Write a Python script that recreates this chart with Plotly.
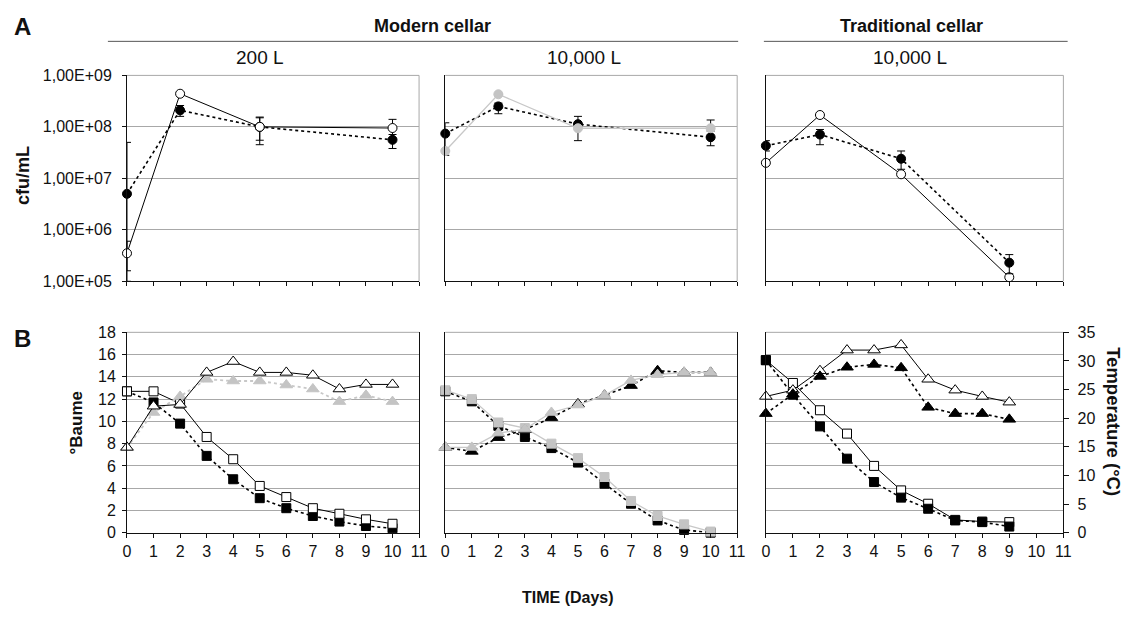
import plotly.graph_objects as go

# ---------------- data ----------------
days_A12 = [0, 2, 5, 10]
days_A3 = [0, 2, 5, 9]

A1_open = [3.5e5, 4.4e8, 1.0e8, 9.5e7]
A1_open_up = [2.5e5, 0, 5.0e7, 4.5e7]
A1_open_dn = [1.9e5, 0, 4.5e7, 3.5e7]
A1_fill = [5.0e6, 2.1e8, 1.0e8, 5.6e7]
A1_fill_up = [4.5e7, 5.0e7, 5.5e7, 1.5e7]
A1_fill_dn = [4.9e6, 5.0e7, 5.5e7, 1.8e7]

A2_gray = [3.4e7, 4.3e8, 9.4e7, 9.4e7]
A2_gray_up = [0, 0, 0, 4.2e7]
A2_gray_dn = [0, 0, 0, 0]
A2_fill = [7.4e7, 2.5e8, 1.13e8, 6.3e7]
A2_fill_up = [4.6e7, 4.0e7, 4.7e7, 2.0e7]
A2_fill_dn = [4.6e7, 7.0e7, 5.9e7, 2.0e7]

A3_open = [2.0e7, 1.7e8, 1.2e7, 1.2e5]
A3_fill = [4.3e7, 7.1e7, 2.4e7, 2.3e5]
A3_fill_up = [1.1e7, 1.8e7, 1.0e7, 1.0e5]
A3_fill_dn = [0.9e7, 2.6e7, 0.9e7, 0.9e5]

days_B12 = [0, 1, 2, 3, 4, 5, 6, 7, 8, 9, 10]
days_B3 = [0, 1, 2, 3, 4, 5, 6, 7, 8, 9]

B1_open_sq = [12.7, 12.7, 11.6, 8.6, 6.6, 4.2, 3.2, 2.2, 1.7, 1.2, 0.8]
B1_fill_sq = [12.7, 11.7, 9.8, 6.9, 4.8, 3.1, 2.2, 1.5, 1.0, 0.6, 0.4]
B1_open_tri = [14.9, 22.1, 22.4, 28.0, 29.9, 28.0, 28.0, 27.5, 25.1, 25.9, 25.9]
B1_gray_tri = [14.9, 21.0, 23.8, 26.8, 26.5, 26.5, 25.8, 25.1, 22.9, 24.0, 22.9]

B2_gray_sq = [12.8, 12.0, 9.9, 9.4, 8.0, 6.7, 5.0, 2.85, 1.5, 0.75, 0.1]
B2_fill_sq = [12.7, 11.8, 9.6, 8.6, 7.6, 6.3, 4.4, 2.6, 1.1, 0.25, 0.0]
B2_gray_tri = [14.9, 14.9, 17.4, 18.1, 21.0, 22.3, 24.0, 26.6, 27.6, 28.0, 28.0]
B2_fill_tri = [14.9, 14.2, 16.6, 18.0, 20.1, 22.5, 24.0, 25.7, 28.3, 28.0, 28.0]

B3_open_sq = [15.5, 13.45, 11.0, 8.9, 6.0, 3.8, 2.6, 1.15, 1.0, 0.95]
B3_fill_sq = [15.5, 12.4, 9.55, 6.65, 4.55, 3.15, 2.15, 1.1, 0.95, 0.55]
B3_open_tri = [23.8, 24.9, 28.3, 31.9, 31.9, 32.8, 26.8, 24.9, 23.8, 22.8]
B3_fill_tri = [20.8, 24.2, 27.3, 28.9, 29.4, 28.8, 21.9, 20.8, 20.8, 19.8]

cfu_tickvals = [1e5, 1e6, 1e7, 1e8, 1e9]
cfu_ticktext = ["1,00E+05", "1,00E+06", "1,00E+07", "1,00E+08", "1,00E+09"]

# ---------------- style ----------------
W, H = 1136, 619
FONT = "Arial, Liberation Sans, sans-serif"
GRID = "#a8a8a8"
AX = "#111111"
GRAYM = "#c4c4c4"
GRAYL = "#c8c8c8"


def px(x):
    return x / W


def py(y):
    return 1 - y / H


XD = [(124.3, 419.5), (446, 741), (770, 1070.7)]
YA = (69.3, 281)
YB = (333.5, 539.5)

fig = go.Figure()

open_c = dict(symbol="circle", size=9, color="white", line=dict(color="black", width=1))
fill_c = dict(symbol="circle", size=9, color="black", line=dict(color="black", width=1))
gray_c = dict(symbol="circle", size=9, color=GRAYM, line=dict(color=GRAYM, width=1))
open_s = dict(symbol="square", size=9, color="white", line=dict(color="black", width=1))
fill_s = dict(symbol="square", size=9, color="black", line=dict(color="black", width=1))
gray_s = dict(symbol="square", size=9, color=GRAYM, line=dict(color=GRAYM, width=1))
open_t = dict(symbol="triangle-up", size=11, color="white", line=dict(color="black", width=1))
fill_t = dict(symbol="triangle-up", size=11, color="black", line=dict(color="black", width=1))
gray_t = dict(symbol="triangle-up", size=11, color=GRAYM, line=dict(color=GRAYM, width=1))

solid = dict(color="black", width=1)
dotted = dict(color="black", width=1.6, dash="dot")
gsolid = dict(color=GRAYL, width=1.3)
gdotted = dict(color=GRAYL, width=1.8, dash="dot")


def err(up, dn):
    return dict(type="data", array=up, arrayminus=dn, color="black", thickness=1, width=4, visible=True)


def add(x, y, xa, ya, line, marker, error_y=None):
    fig.add_trace(go.Scatter(x=x, y=y, xaxis=xa, yaxis=ya, mode="lines+markers",
                             line=line, marker=marker, error_y=error_y,
                             showlegend=False, cliponaxis=False))


# Panel A1
add(days_A12, A1_fill, "x", "y", dotted, fill_c, err(A1_fill_up, A1_fill_dn))
add(days_A12, A1_open, "x", "y", solid, open_c, err(A1_open_up, A1_open_dn))
# Panel A2
add(days_A12, A2_fill, "x2", "y2", dotted, fill_c, err(A2_fill_up, A2_fill_dn))
add(days_A12, A2_gray, "x2", "y2", gsolid, gray_c, err(A2_gray_up, A2_gray_dn))
# Panel A3
add(days_A3, A3_open, "x3", "y3", solid, open_c)
add(days_A3, A3_fill, "x3", "y3", dotted, fill_c, err(A3_fill_up, A3_fill_dn))

# Panel B1
add(days_B12, B1_gray_tri, "x4", "y7", gdotted, gray_t)
add(days_B12, B1_open_tri, "x4", "y7", solid, open_t)
add(days_B12, B1_fill_sq, "x4", "y4", dotted, fill_s)
add(days_B12, B1_open_sq, "x4", "y4", solid, open_s)
# Panel B2
add(days_B12, B2_fill_tri, "x5", "y8", dotted, fill_t)
add(days_B12, B2_gray_tri, "x5", "y8", gsolid, gray_t)
add(days_B12, B2_fill_sq, "x5", "y5", dotted, fill_s)
add(days_B12, B2_gray_sq, "x5", "y5", gsolid, gray_s)
# Panel B3
add(days_B3, B3_open_tri, "x6", "y9", solid, open_t)
add(days_B3, B3_fill_tri, "x6", "y9", dotted, fill_t)
add(days_B3, B3_open_sq, "x6", "y6", solid, open_s)
add(days_B3, B3_fill_sq, "x6", "y6", dotted, fill_s)

tickfont_A = dict(family=FONT, size=16, color="#111")
tickfont_B = dict(family=FONT, size=16, color="#111")

layout = dict(
    width=W, height=H, autosize=False,
    margin=dict(l=0, r=0, t=0, b=0),
    paper_bgcolor="white", plot_bgcolor="white",
    font=dict(family=FONT, color="#111"),
    showlegend=False,
)

for i in range(6):
    n = i + 1
    xd = XD[i % 3]
    isA = i < 3
    xname = "xaxis" if n == 1 else f"xaxis{n}"
    yname = "yaxis" if n == 1 else f"yaxis{n}"
    yd = YA if isA else YB
    layout[xname] = dict(
        domain=[px(xd[0]), px(xd[1])], range=[0, 11], anchor="y" if n == 1 else f"y{n}",
        showgrid=False, zeroline=False, showline=True, linecolor=AX, linewidth=1,
        ticks="outside", ticklen=4, tickcolor=AX, dtick=1, tick0=0,
        showticklabels=not isA, tickfont=tickfont_B, fixedrange=True,
    )
    yax = dict(
        domain=[py(yd[1]), py(yd[0])], anchor="x" if n == 1 else f"x{n}",
        showgrid=True, gridcolor=GRID, gridwidth=1, zeroline=False,
        showline=True, linecolor=AX, linewidth=1, fixedrange=True,
    )
    if isA:
        yax.update(type="log", range=[5, 9], tickvals=cfu_tickvals, ticktext=cfu_ticktext)
        if n == 1:
            yax.update(ticks="outside", ticklen=4, tickcolor=AX, tickfont=tickfont_A,
                       showticklabels=True, ticklabelstandoff=7)
        else:
            yax.update(ticks="", showticklabels=False)
    else:
        yax.update(range=[0, 18], dtick=2, tick0=0)
        if n == 4:
            yax.update(ticks="outside", ticklen=4, tickcolor=AX, tickfont=tickfont_B,
                       showticklabels=True, ticklabelstandoff=3)
        else:
            yax.update(ticks="", showticklabels=False)
    layout[yname] = yax

# temperature axes (right side of B panels)
for k, n in zip([7, 8, 9], [4, 5, 6]):
    ya = dict(overlaying=f"y{n}", anchor=f"x{n}", side="right", range=[0, 35],
              showgrid=False, zeroline=False, showline=True, linecolor=AX, linewidth=1,
              fixedrange=True)
    if k == 9:
        ya.update(ticks="outside", ticklen=5, tickcolor=AX, dtick=5, tick0=0,
                  tickfont=tickfont_B, showticklabels=True, ticklabelstandoff=5)
    else:
        ya.update(ticks="", showticklabels=False)
    layout[f"yaxis{k}"] = ya

fig.update_layout(**layout)

shapes = []
for i in range(6):
    xd = XD[i % 3]
    yd = YA if i < 3 else YB
    # top border
    shapes.append(dict(type="line", xref="paper", yref="paper", x0=px(xd[0]), x1=px(xd[1]),
                       y0=py(yd[0]), y1=py(yd[0]), line=dict(color=GRID, width=1), layer="below"))
    if i < 3:
        shapes.append(dict(type="line", xref="paper", yref="paper", x0=px(xd[1]), x1=px(xd[1]),
                           y0=py(yd[0]), y1=py(yd[1]), line=dict(color=GRID, width=1), layer="below"))
# header lines
shapes.append(dict(type="line", xref="paper", yref="paper", x0=px(105), x1=px(742),
                   y0=py(34.3), y1=py(34.3), line=dict(color="#555", width=1)))
shapes.append(dict(type="line", xref="paper", yref="paper", x0=px(768), x1=px(1075),
                   y0=py(34.3), y1=py(34.3), line=dict(color="#555", width=1)))
fig.update_layout(shapes=shapes)


def ann(text, x, y, size, bold=False, angle=0, xanchor="center"):
    return dict(text=f"<b>{text}</b>" if bold else text, x=px(x), y=py(y), xref="paper", yref="paper",
                showarrow=False, font=dict(family=FONT, size=size, color="#111"),
                textangle=angle, xanchor=xanchor, yanchor="middle")


annotations = [
    ann("A", 19, 19, 24, bold=True),
    ann("B", 19, 340, 24, bold=True),
    ann("Modern cellar", 433, 18, 18, bold=True),
    ann("Traditional cellar", 917, 18, 18, bold=True),
    ann("200 L", 259, 51, 19),
    ann("10,000 L", 586, 51, 19),
    ann("10,000 L", 916, 51, 19),
    ann("cfu/mL", 19, 172, 18, bold=True, angle=-90),
    ann("°Baume", 73, 427, 17, bold=True, angle=-90),
    ann("Temperature (°C)", 1122, 425, 18.5, bold=True, angle=90),
    ann("TIME (Days)", 570, 606, 16, bold=True),
]
fig.update_layout(annotations=annotations)

fig.write_html("out.html", config={"displayModeBar": False},
               post_script="document.body.style.margin='0';document.body.style.overflow='hidden';")
